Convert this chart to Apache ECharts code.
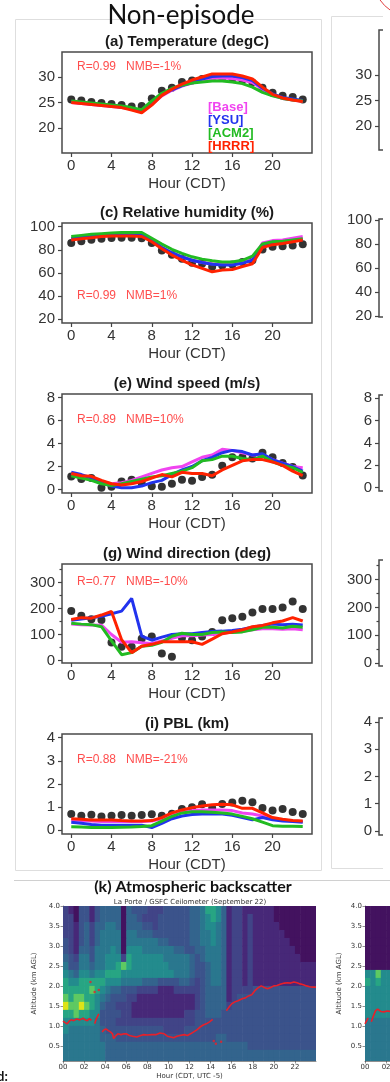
<!DOCTYPE html>
<html>
<head>
<meta charset="utf-8">
<title>Non-episode</title>
<script src="https://cdn.jsdelivr.net/npm/echarts@6.0.0/dist/echarts.min.js"></script>
<style>
  html, body { margin: 0; padding: 0; background: #fff; }
  #chart { width: 390px; height: 1082px; }
</style>
</head>
<body>
<div id="chart"></div>
<script>
// diurnal composite, hour of day (CDT)
const hours = [0, 1, 2, 3, 4, 5, 6, 7, 8, 9, 10, 11, 12, 13, 14, 15, 16, 17, 18, 19, 20, 21, 22, 23]
const modelNames = ['Base', 'YSU', 'ACM2', 'HRRR']
const modelColors = ['#f044f0', '#2233ee', '#22bb22', '#ff2200']

// (a) temperature (degC)
const tempObs = [25.6, 25.4, 25.1, 24.9, 24.7, 24.5, 24.2, 24.3, 25.8, 27.3, 27.9, 29.0, 29.3, 29.6, 29.9, 29.8, 29.7, 29.4, 28.9, 27.9, 26.9, 26.3, 26.1, 25.6]
const tempBase = [25.0, 24.8, 24.6, 24.4, 24.2, 24.0, 23.7, 23.2, 24.6, 26.3, 27.4, 28.2, 28.8, 29.3, 29.7, 29.8, 29.7, 29.4, 28.9, 27.6, 26.4, 25.8, 25.5, 25.2]
const tempYsu = [25.1, 24.9, 24.7, 24.5, 24.3, 24.1, 23.8, 23.5, 24.9, 26.5, 27.5, 28.3, 28.9, 29.6, 30.1, 30.2, 30.2, 29.9, 29.3, 27.8, 26.7, 26.0, 25.7, 25.4]
const tempAcm2 = [25.3, 25.1, 24.9, 24.7, 24.5, 24.3, 24.0, 23.6, 25.3, 26.8, 27.8, 28.4, 28.8, 29.0, 29.2, 29.2, 29.0, 28.7, 28.0, 27.0, 26.3, 25.8, 25.5, 25.3]
const tempHrrr = [25.0, 24.8, 24.6, 24.4, 24.2, 24.0, 23.5, 23.0, 24.5, 26.4, 27.6, 28.6, 29.4, 30.0, 30.6, 30.6, 30.6, 30.2, 29.6, 28.0, 26.6, 25.9, 25.5, 25.2]

// (c) relative humidity (%)
const rhObs = [86.0, 87.4, 88.8, 89.7, 90.3, 90.5, 90.5, 90.0, 86.0, 79.4, 75.7, 72.3, 68.8, 68.0, 65.4, 66.5, 67.4, 69.5, 71.0, 80.3, 82.6, 83.2, 83.7, 84.9]
const rhBase = [89.5, 90.5, 91.5, 92.0, 92.5, 92.5, 92.5, 92.5, 88.0, 82.0, 77.5, 74.0, 71.0, 69.0, 68.0, 67.5, 67.5, 69.0, 71.5, 86.0, 88.0, 88.5, 90.0, 91.5]
const rhYsu = [90.0, 91.0, 92.0, 92.5, 93.0, 93.0, 93.0, 93.0, 88.0, 82.0, 77.5, 74.0, 71.0, 69.0, 67.5, 67.0, 67.0, 68.5, 71.0, 84.0, 86.5, 87.0, 88.0, 89.0]
const rhAcm2 = [91.5, 92.5, 93.5, 94.0, 94.5, 95.0, 95.0, 95.0, 90.0, 85.0, 80.5, 77.0, 74.0, 72.0, 70.5, 69.5, 69.5, 71.0, 74.5, 85.0, 87.0, 87.5, 88.5, 89.5]
const rhHrrr = [88.5, 89.5, 90.5, 91.5, 92.0, 92.0, 92.0, 91.5, 87.0, 81.0, 75.5, 71.0, 67.0, 64.0, 61.0, 62.5, 63.0, 65.5, 68.0, 82.0, 84.5, 85.5, 87.0, 88.5]

// (e) wind speed (m/s)
const wsObs = [1.14, 0.92, 1.0, 0.15, 0.24, 0.69, 0.86, 0.57, 0.29, 0.24, 0.5, 0.86, 0.77, 1.09, 1.29, 2.06, 2.8, 2.8, 2.7, 3.2, 2.8, 2.3, 1.95, 1.23]
const wsBase = [1.4, 1.2, 1.0, 0.7, 0.5, 0.6, 0.8, 1.1, 1.4, 1.7, 1.9, 2.0, 2.4, 2.8, 3.0, 3.5, 3.4, 3.2, 3.0, 3.0, 2.6, 2.3, 2.0, 1.9]
const wsYsu = [1.5, 1.3, 1.0, 0.6, 0.3, 0.15, 0.15, 0.3, 0.6, 0.8, 1.3, 1.7, 2.0, 2.5, 2.8, 3.2, 3.4, 3.3, 3.0, 3.1, 2.6, 2.3, 2.0, 1.6]
const wsAcm2 = [1.2, 1.0, 0.8, 0.5, 0.35, 0.5, 0.7, 0.9, 1.1, 1.2, 1.4, 1.6, 1.9, 2.5, 2.6, 2.9, 2.9, 2.7, 2.6, 2.9, 2.4, 2.1, 1.9, 1.5]
const wsHrrr = [1.4, 1.2, 1.15, 0.8, 0.5, 0.4, 0.5, 0.7, 1.0, 1.3, 1.1, 1.5, 1.4, 1.4, 1.2, 1.7, 2.1, 2.5, 2.6, 2.6, 2.4, 2.1, 1.6, 1.2]

// (g) wind direction (deg)
const wdObs = [191, 172, 159, 156, 69, 53, 53, 84, 92, 27, 14, 86, 78, 92, 110, 155, 163, 168, 185, 198, 198, 204, 227, 198]
const wdBase = [140, 138, 137, 136, 100, 70, 72, 68, 65, 75, 85, 95, 95, 98, 100, 105, 110, 112, 118, 122, 122, 120, 122, 118]
const wdYsu = [155, 160, 165, 170, 180, 190, 239, 94, 78, 90, 100, 103, 103, 108, 112, 113, 115, 120, 128, 135, 140, 138, 140, 137]
const wdAcm2 = [143, 140, 138, 130, 75, 22, 30, 55, 58, 70, 93, 105, 100, 100, 108, 110, 108, 110, 118, 128, 128, 125, 132, 128]
const wdHrrr = [158, 165, 163, 175, 189, 80, 30, 55, 62, 72, 72, 72, 72, 62, 82, 103, 110, 118, 130, 135, 145, 152, 165, 152]

// (i) PBL height (km)
const pblObs = [0.70, 0.63, 0.67, 0.60, 0.63, 0.66, 0.63, 0.66, 0.69, 0.63, 0.72, 0.92, 1.0, 1.13, 0.96, 1.14, 1.2, 1.28, 1.21, 0.96, 0.86, 0.92, 0.79, 0.70]
const pblBase = [0.45, 0.42, 0.40, 0.38, 0.38, 0.38, 0.38, 0.38, 0.40, 0.50, 0.68, 0.80, 0.85, 0.88, 0.88, 0.88, 0.85, 0.75, 0.70, 0.62, 0.50, 0.45, 0.40, 0.38]
const pblYsu = [0.35, 0.30, 0.25, 0.22, 0.22, 0.22, 0.22, 0.22, 0.12, 0.30, 0.50, 0.62, 0.68, 0.70, 0.70, 0.70, 0.65, 0.55, 0.45, 0.55, 0.45, 0.40, 0.38, 0.35]
const pblAcm2 = [0.15, 0.14, 0.12, 0.12, 0.12, 0.13, 0.14, 0.16, 0.20, 0.40, 0.60, 0.75, 0.80, 0.80, 0.78, 0.75, 0.70, 0.60, 0.50, 0.35, 0.20, 0.18, 0.17, 0.16]
const pblHrrr = [0.50, 0.48, 0.45, 0.45, 0.45, 0.42, 0.40, 0.40, 0.42, 0.55, 0.75, 0.88, 0.98, 1.05, 1.10, 1.12, 1.10, 0.95, 0.95, 0.75, 0.55, 0.48, 0.42, 0.40]

const statLabels = ['R=0.99   NMB=-1%', 'R=0.99   NMB=1%', 'R=0.89   NMB=10%', 'R=0.77   NMB=-10%', 'R=0.88   NMB=-21%']
const panelTitles = ['(a) Temperature (degC)', '(c) Relative humidity (%)', '(e) Wind speed (m/s)', '(g) Wind direction (deg)', '(i) PBL (km)']

// (k) ceilometer backscatter, coarse levels 0-9 (viridis), half-hour x 0.2 km cells, top row first
const bscHourStart = [0, 0.5, 1, 1.5, 2, 2.5, 3, 3.5, 4, 4.5, 5, 5.5, 6, 6.5, 7, 7.5, 8, 8.5, 9, 9.5, 10, 10.5, 11, 11.5,
  12, 12.5, 13, 13.5, 14, 14.5, 15, 15.5, 16, 16.5, 17, 17.5, 18, 18.5, 19, 19.5, 20, 20.5, 21, 21.5, 22, 22.5, 23, 23.5]
const bscAltStart = [3.8, 3.6, 3.4, 3.2, 3.0, 2.8, 2.6, 2.4, 2.2, 2.0, 1.8, 1.6, 1.4, 1.2, 1.0, 0.8, 0.6, 0.4, 0.2, 0.0]
const bscLevels = [
  [2, 1, 0, 3, 3, 1, 3, 4, 4, 4, 4, 0, 4, 3, 3, 3, 2, 2, 2, 3, 3, 3, 3, 3, 4, 4, 5, 7, 7, 6, 4, 1, 2, 2, 1, 1, 1, 1, 1, 1, 0, 0, 0, 0, 0, 0, 0, 0],
  [2, 2, 0, 3, 3, 1, 3, 4, 4, 4, 4, 0, 4, 4, 3, 2, 2, 2, 3, 3, 3, 3, 3, 3, 4, 4, 5, 6, 7, 6, 4, 1, 2, 2, 1, 2, 1, 1, 1, 1, 0, 0, 0, 0, 0, 0, 0, 0],
  [2, 2, 1, 3, 4, 2, 4, 4, 5, 5, 4, 0, 4, 4, 4, 3, 3, 2, 3, 3, 3, 3, 3, 3, 4, 4, 5, 6, 6, 5, 4, 1, 2, 2, 1, 2, 1, 1, 1, 1, 1, 0, 0, 0, 0, 0, 0, 0],
  [2, 2, 1, 3, 4, 2, 4, 5, 5, 5, 5, 0, 5, 5, 4, 4, 4, 3, 3, 3, 3, 3, 3, 3, 4, 4, 5, 5, 6, 5, 4, 1, 2, 2, 1, 2, 1, 1, 1, 1, 1, 1, 0, 0, 0, 0, 0, 0],
  [3, 2, 1, 3, 4, 2, 4, 5, 5, 5, 5, 0, 5, 5, 5, 5, 5, 5, 4, 4, 3, 3, 3, 3, 4, 4, 5, 5, 6, 5, 4, 1, 2, 2, 1, 2, 1, 1, 1, 1, 1, 1, 1, 0, 0, 0, 0, 0],
  [3, 2, 1, 4, 4, 3, 5, 5, 5, 6, 5, 0, 6, 6, 6, 5, 5, 5, 5, 5, 5, 4, 4, 3, 3, 4, 4, 5, 5, 5, 4, 1, 2, 2, 1, 2, 1, 1, 1, 1, 1, 1, 1, 1, 0, 0, 0, 0],
  [4, 3, 2, 5, 5, 3, 5, 5, 6, 6, 6, 2, 7, 6, 6, 6, 6, 6, 6, 5, 5, 5, 5, 5, 4, 3, 4, 5, 5, 5, 4, 1, 2, 2, 1, 2, 1, 1, 1, 1, 1, 1, 1, 1, 1, 0, 0, 0],
  [5, 3, 3, 5, 5, 4, 5, 5, 6, 6, 7, 8, 7, 6, 6, 6, 6, 6, 6, 6, 5, 5, 5, 5, 4, 3, 3, 4, 5, 5, 4, 1, 2, 2, 1, 2, 1, 1, 1, 1, 1, 1, 1, 1, 1, 1, 1, 1],
  [6, 5, 4, 6, 6, 5, 6, 6, 7, 7, 7, 6, 6, 6, 6, 6, 6, 6, 6, 6, 6, 5, 5, 5, 4, 3, 3, 4, 5, 5, 4, 1, 2, 2, 1, 2, 1, 1, 1, 1, 1, 1, 1, 1, 1, 1, 1, 1],
  [7, 6, 6, 7, 7, 7, 7, 7, 6, 6, 6, 5, 5, 5, 5, 4, 4, 4, 3, 3, 3, 3, 4, 4, 3, 2, 3, 4, 5, 5, 4, 1, 2, 2, 1, 2, 1, 1, 1, 1, 1, 1, 1, 1, 1, 1, 1, 1],
  [7, 7, 7, 7, 7, 8, 7, 6, 5, 4, 4, 3, 3, 3, 2, 2, 2, 2, 1, 1, 1, 2, 2, 2, 2, 2, 3, 4, 4, 4, 4, 1, 2, 2, 2, 2, 3, 3, 3, 3, 3, 3, 3, 3, 3, 3, 3, 3],
  [8, 7, 8, 8, 7, 7, 6, 5, 4, 3, 3, 3, 2, 2, 1, 1, 1, 1, 1, 1, 1, 1, 1, 1, 1, 2, 3, 4, 4, 4, 4, 1, 2, 3, 3, 3, 3, 3, 3, 3, 3, 3, 3, 3, 3, 3, 3, 3],
  [9, 8, 8, 9, 8, 7, 6, 4, 3, 3, 2, 2, 2, 1, 1, 1, 1, 1, 1, 1, 1, 1, 1, 1, 1, 2, 3, 4, 4, 4, 4, 2, 3, 3, 3, 3, 3, 3, 3, 3, 3, 3, 3, 3, 3, 3, 3, 3],
  [7, 7, 8, 7, 7, 6, 6, 3, 3, 3, 3, 2, 2, 1, 1, 1, 1, 1, 1, 1, 1, 1, 1, 2, 2, 3, 3, 4, 4, 4, 3, 3, 3, 3, 3, 3, 3, 3, 3, 3, 3, 3, 3, 3, 3, 3, 3, 3],
  [6, 6, 6, 6, 6, 6, 5, 3, 3, 3, 2, 2, 2, 2, 2, 2, 2, 2, 2, 2, 2, 2, 2, 2, 2, 3, 3, 3, 3, 3, 3, 3, 3, 3, 3, 3, 3, 3, 3, 3, 3, 3, 3, 3, 3, 3, 3, 3],
  [6, 5, 5, 5, 5, 5, 5, 4, 3, 3, 3, 3, 3, 3, 3, 3, 3, 3, 3, 2, 2, 2, 2, 3, 3, 3, 3, 3, 3, 3, 3, 3, 3, 3, 3, 3, 3, 3, 3, 3, 3, 3, 3, 3, 3, 3, 3, 3],
  [5, 5, 5, 5, 5, 5, 5, 4, 4, 4, 3, 3, 3, 3, 3, 3, 3, 3, 3, 3, 3, 3, 3, 3, 3, 3, 3, 3, 3, 4, 4, 3, 3, 3, 3, 3, 3, 3, 3, 3, 3, 3, 3, 3, 3, 3, 3, 3],
  [5, 5, 5, 5, 5, 5, 5, 5, 4, 4, 4, 4, 4, 4, 4, 4, 4, 4, 4, 4, 4, 4, 4, 4, 4, 4, 4, 4, 4, 4, 4, 4, 4, 4, 4, 3, 3, 3, 3, 3, 3, 3, 3, 3, 3, 3, 3, 3],
  [5, 5, 5, 5, 5, 5, 5, 5, 4, 4, 4, 4, 4, 4, 4, 4, 4, 4, 4, 4, 4, 4, 4, 4, 4, 4, 4, 4, 4, 4, 4, 4, 4, 4, 4, 4, 4, 4, 4, 4, 4, 4, 4, 4, 4, 4, 4, 4],
  [5, 5, 5, 5, 5, 5, 5, 5, 4, 4, 4, 4, 4, 4, 4, 4, 4, 4, 4, 4, 4, 4, 4, 4, 4, 4, 4, 4, 4, 4, 4, 4, 4, 4, 4, 4, 4, 4, 4, 4, 4, 4, 4, 4, 4, 4, 4, 4]
]
const bscPalette = ['#43125f', '#472878', '#414487', '#3b538b', '#33648d', '#2a778e', '#238b8d', '#27a583', '#5ec962', '#dde318']

// retrieved mixed-layer height (red dots), '-' marks a gap
const mlhHours = [0, 0.2, 0.4, 0.6, 0.8, 1.0, 1.3, 1.6, 1.9, 2.1, 2.3, 2.5, 2.7, 2.8, 3.0, 3.2, 3.4, 3.6,
  3.7, 3.9, 4.1, 4.3, 4.5, 4.7, 4.8, 5.0, 5.2, 5.5, 5.8, 6.0, 6.3, 6.6, 7.0, 7.3, 7.6, 8.0, 8.4, 8.8, 9.2, 9.6, 9.9,
  10.2, 10.5, 10.8, 11.1, 11.5, 11.8, 12.1, 12.4, 12.7, 13.0, 13.3, 13.6, 13.9, 14.2, 14.8,
  15.5, 15.7, 16.0, 16.3, 16.6, 17.0, 17.3, 17.6, 17.9, 18.2, 18.5, 18.8, 19.1, 19.4, 19.7, 20.0, 20.3, 20.6,
  21.0, 21.3, 21.6, 21.9, 22.2, 22.5, 22.8, 23.1, 23.4, 23.7, 24.0]
const mlhKm = [1.12, 1.08, 1.05, 1.12, 1.15, 1.13, 1.17, 1.15, 1.19, 1.15, 1.13, 1.18, 1.14, '-', 1.05, 1.2, 1.3, '-',
  0.85, 0.9, 0.92, 0.88, 0.85, 0.8, 0.68, 0.75, 0.8, 0.78, 0.8, 0.8, 0.76, 0.74, 0.72, 0.75, 0.78, 0.77, 0.78, 0.78, 0.82, 0.8, 0.74,
  0.72, 0.7, 0.74, 0.76, 0.78, 0.76, 0.8, 0.85, 0.9, 0.97, 1.02, 1.05, 1.1, 1.16, '-',
  1.38, 1.45, 1.55, 1.6, 1.63, 1.68, 1.7, 1.75, 1.78, 1.88, 1.95, 2.0, 1.96, 1.93, 1.96, 2.0, 2.01, 2.04,
  2.07, 2.08, 2.07, 2.1, 2.08, 2.05, 2.03, 2.0, 1.98, 1.97, 1.97]
const mlhStrayHours = [2.6, 3.0, 3.4, 14.3, 14.5, 15.0]
const mlhStrayKm = [2.1, 1.85, 1.9, 0.62, 0.55, 0.6]

// right-hand (episode) ceilometer panel, only its first hours are visible
const rightHourStart = [0, 0.5, 1, 1.5, 2]
const rightLevels = [
  [0, 0, 0, 0, 0], [0, 0, 0, 0, 0], [0, 0, 0, 0, 0], [0, 0, 0, 0, 0], [0, 0, 0, 0, 0],
  [0, 0, 0, 0, 0], [0, 0, 0, 0, 0], [0, 0, 0, 0, 0], [6, 6, 8, 6, 6], [7, 6, 7, 6, 6],
  [6, 6, 6, 6, 6], [6, 6, 6, 6, 6], [6, 6, 6, 6, 6], [6, 6, 6, 6, 6], [5, 5, 5, 5, 5],
  [5, 5, 5, 5, 5], [5, 5, 5, 5, 5], [5, 5, 5, 5, 5], [5, 5, 5, 5, 5], [5, 5, 5, 5, 5]
]
const rightMlhHours = [0, 0.15, 0.3, 0.45, 0.6, 0.8, 1.0, 1.2, 1.5, 1.8, 2.1, 2.4]
const rightMlhKm = [1.05, 1.1, 1.2, '-', 1.1, 1.25, 1.38, 1.42, 1.36, 1.35, 1.37, 1.36]

const AX_FONT = 'Liberation Sans, Arial, sans-serif'
const MPL_FONT = 'DejaVu Sans, sans-serif'
const HEAD_FONT = 'Lato, Liberation Sans, sans-serif'

const leftPanels = [
  { top: 52, height: 101, min: 15.1, max: 34.9, ticks: [20, 25, 30], obs: tempObs, models: [tempBase, tempYsu, tempAcm2, tempHrrr] },
  { top: 223, height: 100, min: 16.8, max: 103.2, ticks: [20, 40, 60, 80, 100], obs: rhObs, models: [rhBase, rhYsu, rhAcm2, rhHrrr] },
  { top: 394, height: 99, min: -0.3, max: 8.3, ticks: [0, 2, 4, 6, 8], obs: wsObs, models: [wsBase, wsYsu, wsAcm2, wsHrrr] },
  { top: 564, height: 99, min: -10, max: 372, ticks: [0, 100, 200, 300], minor: [50, 150, 250, 350], obs: wdObs, models: [wdBase, wdYsu, wdAcm2, wdHrrr] },
  { top: 734, height: 100, min: -0.16, max: 4.16, ticks: [0, 1, 2, 3, 4], obs: pblObs, models: [pblBase, pblYsu, pblAcm2, pblHrrr] }
]
const rightPanels = [
  { top: 30, height: 120, min: 15.3, max: 38.8, ticks: [20, 25, 30] },
  { top: 219, height: 98, min: 19, max: 101, ticks: [20, 40, 60, 80, 100] },
  { top: 395, height: 96, min: -0.3, max: 8.3, ticks: [0, 2, 4, 6, 8] },
  { top: 560, height: 106, min: -10, max: 370, ticks: [0, 100, 200, 300], minor: [50, 150, 250, 350] },
  { top: 718, height: 117, min: -0.15, max: 4.15, ticks: [0, 1, 2, 3, 4] }
]

const grids = []
const xAxes = []
const yAxes = []
const series = []
const graphics = []

function tickStyle(len) {
  return { show: true, length: len, lineStyle: { color: '#444', width: 1.2 } }
}

function addLineGrid(p, left, width, showX) {
  const gi = grids.length
  grids.push({ left: left, top: p.top, width: width, height: p.height, show: true, borderColor: '#4a4a4a', borderWidth: 1.5, backgroundColor: 'rgba(0,0,0,0)', containLabel: false, outerBoundsMode: 'none' })
  xAxes.push({
    gridIndex: gi, type: 'value', min: -0.92, max: 23.92, show: showX, position: 'bottom',
    axisLine: { show: false, onZero: false }, splitLine: { show: false },
    axisTick: Object.assign(tickStyle(4), { customValues: [0, 4, 8, 12, 16, 20] }),
    axisLabel: { customValues: [0, 4, 8, 12, 16, 20], color: '#333', fontSize: 15, fontFamily: AX_FONT, margin: 5 },
    name: 'Hour (CDT)', nameLocation: 'middle', nameGap: 23,
    nameTextStyle: { color: '#333', fontSize: 15, fontFamily: AX_FONT, verticalAlign: 'top' }
  })
  const xi = xAxes.length - 1
  yAxes.push({
    gridIndex: gi, type: 'value', min: p.min, max: p.max, position: 'left',
    axisLine: { show: false, onZero: false }, splitLine: { show: false },
    axisTick: Object.assign(tickStyle(4), { customValues: p.ticks }),
    axisLabel: { customValues: p.ticks, color: '#333', fontSize: 15, fontFamily: AX_FONT, margin: 7 }
  })
  const yi = yAxes.length - 1
  if (p.minor) {
    yAxes.push({
      gridIndex: gi, type: 'value', min: p.min, max: p.max, position: 'left', offset: 0,
      axisLine: { show: false, onZero: false }, splitLine: { show: false }, axisLabel: { show: false },
      axisTick: Object.assign(tickStyle(2.5), { customValues: p.minor })
    })
  }
  return { xi: xi, yi: yi }
}

// left column: Non-episode line panels
leftPanels.forEach((p, k) => {
  const ax = addLineGrid(p, 62, 250, true)
  series.push({
    type: 'scatter', xAxisIndex: ax.xi, yAxisIndex: ax.yi, silent: true,
    symbolSize: 8, itemStyle: { color: '#000' },
    data: hours.map((h, i) => [h, p.obs[i]])
  })
  p.models.forEach((m, j) => {
    series.push({
      type: 'line', name: modelNames[j], xAxisIndex: ax.xi, yAxisIndex: ax.yi, silent: true,
      symbol: 'none', lineStyle: { color: modelColors[j], width: 3 }, itemStyle: { color: modelColors[j] },
      data: hours.map((h, i) => [h, m[i]])
    })
  })
  graphics.push({ type: 'text', x: 187, y: p.top - 10.5, style: { text: panelTitles[k], font: 'bold 15px ' + AX_FONT, fill: '#1a1a1a', align: 'center', verticalAlign: 'middle' } })
})

// annotations
const statY = [67, 296, 420, 582, 760]
statLabels.forEach((s, k) => {
  graphics.push({ type: 'text', x: 77, y: statY[k], style: { text: s, font: '12px ' + AX_FONT, fill: '#ff4d4d', align: 'left', verticalAlign: 'middle' } })
})
// model key in panel (a)
modelNames.forEach((n, j) => {
  graphics.push({ type: 'text', x: 208, y: 107 + j * 13, style: { text: '[' + n + ']', font: 'bold 13px ' + AX_FONT, fill: modelColors[j], align: 'left', verticalAlign: 'middle' } })
})

// right column: clipped episode panels
rightPanels.forEach(p => { addLineGrid(p, 379, 11, false) })

// backscatter panels
function renderCell(params, api) {
  const x0 = api.value(0)
  const y0 = api.value(1)
  const p0 = api.coord([x0, y0 + 0.2])
  const p1 = api.coord([x0 + 0.5, y0])
  const cs = params.coordSys
  const shape = echarts.graphic.clipRectByRect(
    { x: p0[0], y: p0[1], width: p1[0] - p0[0] + 0.6, height: p1[1] - p0[1] + 0.6 },
    { x: cs.x, y: cs.y, width: cs.width, height: cs.height })
  return shape && { type: 'rect', shape: shape, style: { fill: bscPalette[api.value(2)] } }
}

function addHeatGrid(left, width, xMax, cellHours, levels, lineHours, lineKm, showXName) {
  const gi = grids.length
  grids.push({ left: left, top: 906, width: width, height: 155, show: false, containLabel: false, outerBoundsMode: 'none' })
  const xTicks = [0, 2, 4, 6, 8, 10, 12, 14, 16, 18, 20, 22].filter(v => v <= xMax)
  xAxes.push({
    gridIndex: gi, type: 'value', min: 0, max: xMax, position: 'bottom',
    axisLine: { show: true, onZero: false, lineStyle: { color: '#444', width: 0.6 } }, splitLine: { show: false },
    axisTick: { show: true, length: 2.5, customValues: xTicks, lineStyle: { color: '#444', width: 0.6 } },
    axisLabel: { customValues: xTicks, color: '#333', fontSize: 7, fontFamily: MPL_FONT, margin: 3, formatter: v => (v < 10 ? '0' : '') + v },
    name: showXName ? 'Hour (CDT, UTC -5)' : '', nameLocation: 'middle', nameGap: 12,
    nameTextStyle: { color: '#333', fontSize: 7, fontFamily: MPL_FONT, verticalAlign: 'top' }
  })
  const yTicks = [0.5, 1, 1.5, 2, 2.5, 3, 3.5, 4]
  yAxes.push({
    gridIndex: gi, type: 'value', min: 0.12, max: 4.0, position: 'left',
    axisLine: { show: true, onZero: false, lineStyle: { color: '#444', width: 0.6 } }, splitLine: { show: false },
    axisTick: { show: true, length: 2.5, customValues: yTicks, lineStyle: { color: '#444', width: 0.6 } },
    axisLabel: { customValues: yTicks, color: '#333', fontSize: 7, fontFamily: MPL_FONT, margin: 3, formatter: v => v.toFixed(1) },
    name: 'Altitude (km AGL)', nameLocation: 'middle', nameGap: 22, nameRotate: 90,
    nameTextStyle: { color: '#333', fontSize: 7, fontFamily: MPL_FONT }
  })
  const xi = xAxes.length - 1
  const yi = yAxes.length - 1
  const cells = []
  levels.forEach((row, r) => {
    row.forEach((lv, c) => { cells.push([cellHours[c], bscAltStart[r], lv]) })
  })
  series.push({
    type: 'custom', xAxisIndex: xi, yAxisIndex: yi, silent: true, z: 1,
    renderItem: renderCell, encode: { x: 0, y: 1 }, data: cells
  })
  series.push({
    type: 'line', xAxisIndex: xi, yAxisIndex: yi, silent: true, z: 3, clip: true,
    symbol: 'none', connectNulls: false, lineStyle: { color: '#e8202a', width: 1.6 },
    data: lineHours.map((h, i) => [h, lineKm[i]])
  })
  return { xi: xi, yi: yi }
}

const leftHeat = addHeatGrid(63, 253, 24, bscHourStart, bscLevels, mlhHours, mlhKm, true)
series.push({
  type: 'scatter', xAxisIndex: leftHeat.xi, yAxisIndex: leftHeat.yi, silent: true, z: 3,
  symbolSize: 2.5, itemStyle: { color: '#e8202a' },
  data: mlhStrayHours.map((h, i) => [h, mlhStrayKm[i]])
})
addHeatGrid(365, 25, 2.37, rightHourStart, rightLevels, rightMlhHours, rightMlhKm, false)

// frames, headings and bits of the neighbouring figure
graphics.push(
  { type: 'rect', z: 0, shape: { x: 15.5, y: 19.5, width: 306, height: 851 }, style: { fill: 'none', stroke: '#dedede', lineWidth: 1 } },
  { type: 'rect', z: 0, shape: { x: 331.5, y: 16.5, width: 80, height: 852 }, style: { fill: 'none', stroke: '#dedede', lineWidth: 1 } },
  { type: 'rect', z: 100, shape: { x: 383, y: 12, width: 8, height: 864 }, style: { fill: '#fff' } },
  { type: 'line', z: 100, shape: { x1: 14, y1: 880.5, x2: 390, y2: 880.5 }, style: { stroke: '#d0d0d0', lineWidth: 1 } },
  { type: 'circle', z: 100, shape: { cx: 410, cy: -20, r: 36 }, style: { fill: 'none', stroke: '#e04040', lineWidth: 1 } },
  { type: 'text', z: 100, x: 181, y: 16, style: { text: 'Non-episode', font: '26px ' + HEAD_FONT, fill: '#111', align: 'center', verticalAlign: 'middle' } },
  { type: 'text', z: 100, x: 193, y: 887, style: { text: '(k) Atmospheric backscatter', font: 'bold 16px ' + HEAD_FONT, fill: '#111', align: 'center', verticalAlign: 'middle' } },
  { type: 'text', z: 100, x: 190, y: 902, style: { text: 'La Porte / GSFC Ceilometer (September 22)', font: '7px ' + MPL_FONT, fill: '#333', align: 'center', verticalAlign: 'middle' } },
  { type: 'text', z: 100, x: -3, y: 1077, style: { text: 'd:', font: 'bold 13px ' + HEAD_FONT, fill: '#111', align: 'left', verticalAlign: 'middle' } }
)

const chart = echarts.init(document.getElementById('chart'), null, { renderer: 'canvas' })
chart.setOption({
  backgroundColor: '#fff',
  animation: false,
  grid: grids,
  xAxis: xAxes,
  yAxis: yAxes,
  series: series,
  graphic: graphics
})
</script>
</body>
</html>
